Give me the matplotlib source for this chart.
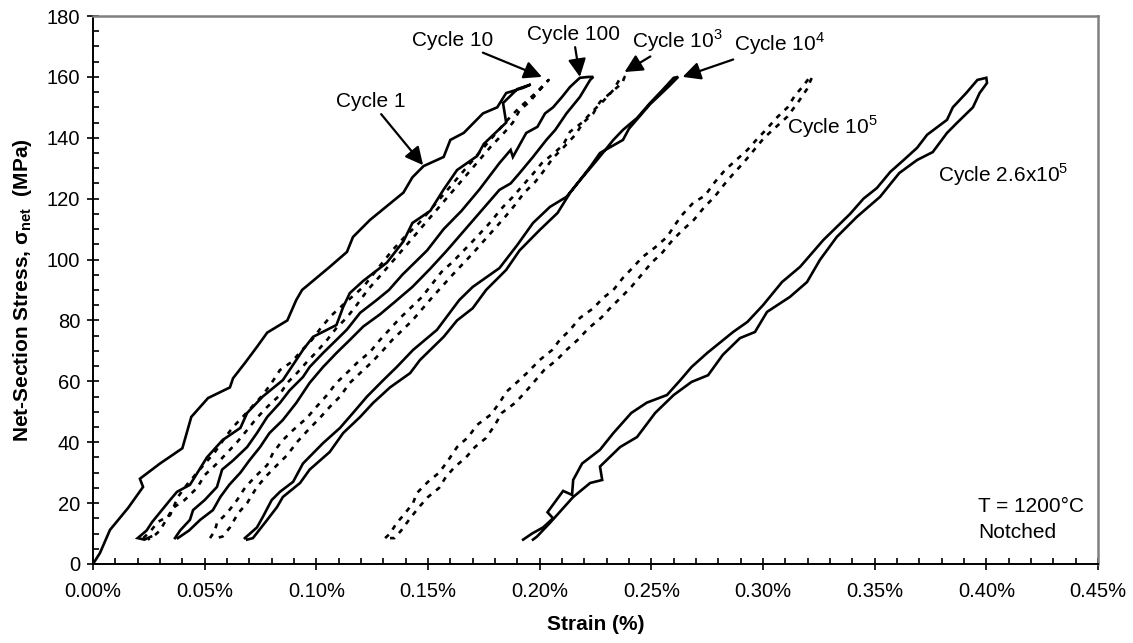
import matplotlib.pyplot as plt
from matplotlib.ticker import MultipleLocator, FuncFormatter

plt.rcParams['font.family'] = ['Liberation Sans', 'DejaVu Sans']
plt.rcParams['mathtext.fontset'] = 'custom'
plt.rcParams['mathtext.rm'] = 'Liberation Sans'
plt.rcParams['mathtext.bf'] = 'Liberation Sans:bold'

# strain (%) / net-section stress (MPa), one loop per cycle
c1_strain = [0.0, 0.0031, 0.0076, 0.0157, 0.0224, 0.021, 0.030, 0.040, 0.044, 0.0515, 0.0613, 0.0627,
             0.068, 0.0734, 0.078, 0.087, 0.091, 0.0936, 0.106, 0.1137, 0.1164, 0.124, 0.139, 0.143,
             0.148, 0.157, 0.160, 0.166, 0.1746, 0.181, 0.185, 0.1926, 0.196,
             0.190, 0.1836, 0.185, 0.175, 0.172, 0.163, 0.157, 0.151, 0.143, 0.139, 0.1316, 0.121,
             0.115, 0.112, 0.109, 0.0985, 0.094, 0.085, 0.076, 0.069, 0.066, 0.058, 0.051, 0.0434,
             0.0376, 0.0345, 0.0265, 0.024, 0.020, 0.023, 0.026]
c1_stress = [0, 3.6, 11.2, 18.4, 25.3, 28, 33, 38, 48.3, 54.5, 58, 61,
             66, 71.3, 76, 80, 86.7, 90, 97.6, 102.5, 107.4, 113, 122, 127,
             130.7, 133.7, 139.3, 141.6, 148, 150, 154.7, 156.4, 157.5,
             156, 151.4, 145, 138, 134, 129.4, 123, 116, 112, 106, 99, 93,
             89, 84.4, 78.5, 74.6, 70.3, 60.4, 55, 49.6, 44.7, 40.7, 35, 26,
             23.7, 21, 13.8, 11, 8.5, 8, 9]

c10_strain = [0.0225, 0.026, 0.029, 0.0345, 0.038, 0.042, 0.0466, 0.0546, 0.059, 0.0627, 0.067, 0.076,
              0.080, 0.0837, 0.089, 0.0936, 0.098, 0.1025, 0.107, 0.1128, 0.121, 0.127, 0.134, 0.139,
              0.146, 0.153, 0.160, 0.167, 0.174, 0.181, 0.1845, 0.191, 0.1957, 0.200, 0.204,
              0.200, 0.1957, 0.191, 0.188, 0.1845, 0.178, 0.171, 0.164, 0.157, 0.150, 0.143, 0.136,
              0.129, 0.123, 0.118, 0.1137, 0.109, 0.1048, 0.100, 0.0958, 0.0913, 0.087, 0.083, 0.078,
              0.0734, 0.069, 0.0645, 0.060, 0.0555, 0.050, 0.0466, 0.041, 0.0358, 0.030, 0.027, 0.0245]
c10_stress = [8.5, 11, 13.8, 16, 22, 26, 30, 36.8, 41.4, 45, 48.3, 55.5,
              59.5, 63.7, 66.4, 70.3, 73.6, 78, 81.8, 85.7, 91, 96.6, 103, 107,
              112, 118, 124, 130, 136, 142, 145, 150, 153, 156, 159,
              155.7, 152, 149, 145, 142, 137, 131, 125, 119, 113, 107, 101,
              95, 90, 85, 81, 77.5, 73.6, 69.6, 66.4, 62.7, 59.5, 55, 51.6,
              48, 44, 40, 36.5, 33, 29.2, 25, 21, 18.4, 11, 9, 8]

c100_strain = [0.0367, 0.039, 0.0434, 0.0448, 0.050, 0.0555, 0.0578, 0.0627, 0.069, 0.0734, 0.078,
               0.0837, 0.088, 0.094, 0.097, 0.103, 0.109, 0.1137, 0.1196, 0.127, 0.1325, 0.1385,
               0.1496, 0.157, 0.165, 0.173, 0.182, 0.187, 0.188, 0.194, 0.199, 0.2024, 0.206, 0.210,
               0.2136, 0.218, 0.222, 0.224,
               0.2226, 0.218, 0.212, 0.207, 0.203, 0.197, 0.191, 0.187, 0.182, 0.1585, 0.151, 0.143,
               0.135, 0.1285, 0.121, 0.115, 0.109, 0.103, 0.097, 0.091, 0.085, 0.079, 0.0748, 0.070,
               0.066, 0.061, 0.057, 0.0537, 0.048, 0.043, 0.040, 0.038]
c100_stress = [8.5, 11, 14.5, 17.7, 21, 25.3, 31, 34, 38.4, 43, 48.3,
               52.9, 57, 61.4, 64.7, 69.3, 73.6, 77, 82.5, 86.7, 90, 95,
               103, 110, 116, 123, 131.7, 136, 133.7, 141.6, 143.6, 148, 150, 153.4,
               156.7, 159.7, 160, 160,
               159, 153.4, 148, 142.6, 139.3, 133.7, 128.4, 125, 122.9, 103, 97, 91,
               86, 82, 78, 73.6, 69.3, 64.7, 59.5, 52.9, 47.3, 43, 38.4, 34,
               30, 26, 22, 17.7, 14.5, 11, 9.5, 8.5]

c1e3_strain = [0.0524, 0.0546, 0.0555, 0.060, 0.0645, 0.068, 0.0725, 0.078, 0.0806, 0.085, 0.0896,
               0.0958, 0.100, 0.1048, 0.109, 0.114, 0.1187, 0.124, 0.1285, 0.1375, 0.1473, 0.156,
               0.161, 0.170, 0.177, 0.1836, 0.188, 0.1926, 0.1966, 0.201, 0.2055, 0.2105, 0.2136,
               0.219, 0.2234, 0.2284, 0.233, 0.236, 0.238,
               0.237, 0.227, 0.224, 0.2194, 0.216, 0.2105, 0.206, 0.2015, 0.198, 0.193, 0.189, 0.1845,
               0.170, 0.161, 0.152, 0.143, 0.134, 0.130, 0.125, 0.1196, 0.115, 0.1106, 0.106, 0.1016,
               0.0963, 0.0913, 0.087, 0.0824, 0.078, 0.0734, 0.069, 0.065, 0.0613, 0.058, 0.055]
c1e3_stress = [8.5, 11, 13.5, 16.7, 21, 25, 28.6, 32.5, 36.5, 40.7, 44,
               48, 51.6, 55.5, 59.5, 63, 66.4, 69.6, 73.6, 80.8, 87.7, 95.9,
               99.2, 106, 111.5, 117.3, 120.6, 124.5, 127.8, 131.7, 134.4, 137.6, 142,
               145, 148.5, 152, 155.7, 159.5, 160,
               158, 151.8, 148, 144.9, 141, 136.7, 133.4, 128.8, 125.5, 121.9, 118, 114,
               102, 95, 87.7, 80, 73.6, 70.3, 66.4, 62.7, 59.5, 55, 51.6, 48,
               44, 40, 35.8, 32.5, 29.2, 25.3, 20, 16.7, 12, 9, 8.5]

c1e4_strain = [0.068, 0.0734, 0.076, 0.080, 0.0837, 0.0896, 0.094, 0.103, 0.1106, 0.1164, 0.1227,
               0.130, 0.136, 0.1433, 0.154, 0.164, 0.170, 0.182, 0.190, 0.197, 0.2046, 0.212, 0.218,
               0.2257, 0.233, 0.2373, 0.2436, 0.2494, 0.255, 0.260, 0.262,
               0.258, 0.2494, 0.240, 0.2373, 0.227, 0.2226, 0.2136, 0.208, 0.200, 0.191, 0.185, 0.176,
               0.170, 0.163, 0.157, 0.1464, 0.142, 0.133, 0.1254, 0.1196, 0.112, 0.106, 0.097, 0.0927,
               0.085, 0.0824, 0.078, 0.0716, 0.069]
c1e4_stress = [8.5, 12, 15.4, 21, 23.7, 27, 33, 39.7, 44.7, 49.6, 55,
               60.4, 64.7, 70.3, 76.9, 86.7, 91, 97.2, 104.8, 112, 117.3, 120.6, 126,
               132.7, 139.3, 142.6, 146.5, 151.4, 155.7, 159.7, 160,
               157, 151, 143, 139.3, 135, 130.4, 121.9, 115.3, 109.7, 103, 96.6, 90,
               84, 80, 74.6, 67, 62.7, 58, 52.9, 48.3, 43, 36.8, 31, 26.6,
               22, 18.7, 14.5, 8.5, 8]

c1e5_strain = [0.1308, 0.133, 0.136, 0.139, 0.1433, 0.145, 0.150, 0.155, 0.159, 0.163, 0.168, 0.172,
               0.178, 0.182, 0.185, 0.190, 0.1947, 0.200, 0.2056, 0.209, 0.2136, 0.218, 0.224, 0.2284,
               0.233, 0.2373, 0.242, 0.246, 0.2517, 0.257, 0.2606, 0.2637, 0.2687, 0.274, 0.2785,
               0.283, 0.288, 0.293, 0.297, 0.3018, 0.306, 0.311, 0.3144, 0.318, 0.321, 0.322,
               0.3197, 0.316, 0.311, 0.305, 0.3005, 0.296, 0.2915, 0.287, 0.283, 0.2783, 0.2738,
               0.269, 0.264, 0.2595, 0.2546, 0.250, 0.2456, 0.241, 0.2366, 0.232, 0.2277, 0.222,
               0.217, 0.212, 0.2076, 0.202, 0.1977, 0.193, 0.189, 0.183, 0.180, 0.176, 0.171, 0.167,
               0.162, 0.158, 0.155, 0.150, 0.146, 0.142, 0.138, 0.135, 0.133]
c1e5_stress = [8.5, 10, 13.5, 16, 20, 23.3, 27, 30, 34, 38.4, 41.7, 45.7,
               49, 52.9, 56.5, 59.8, 63, 67, 70.3, 73.6, 76.9, 80.8, 84, 87.4,
               90, 94, 97.6, 100.8, 104, 107.4, 111.4, 114.6, 118.6, 121, 125.5,
               129.4, 132.7, 136, 139.3, 143, 146.5, 150, 154, 157, 160, 160,
               156, 152, 147, 143, 140, 136, 132, 128.4, 125, 120.6, 117.3,
               113, 109.7, 106.4, 102, 98.9, 95, 91, 87.7, 84.4, 81, 77.5,
               73.6, 70.3, 67, 63.7, 60, 56, 52.9, 49.6, 45.7, 41.4, 38.4, 35,
               31.9, 28.6, 25, 22, 18.7, 15, 11, 8.5, 8.5]

c26e5_strain = [0.1926, 0.1966, 0.2015, 0.206, 0.2035, 0.2105, 0.2145, 0.215, 0.219, 0.227, 0.233,
                0.241, 0.248, 0.257, 0.263, 0.268, 0.275, 0.2866, 0.293, 0.300, 0.3085, 0.3166, 0.327,
                0.339, 0.345, 0.351, 0.357, 0.363, 0.369, 0.3735, 0.3824, 0.385, 0.391, 0.396, 0.400,
                0.4003, 0.397, 0.394, 0.387, 0.3824, 0.376, 0.369, 0.361, 0.3524, 0.342, 0.333, 0.3255,
                0.3197, 0.312, 0.3018, 0.2964, 0.2897, 0.282, 0.2754, 0.268, 0.260, 0.2517, 0.2436,
                0.236, 0.227, 0.228, 0.2226, 0.215, 0.2046, 0.1988, 0.197]
c26e5_stress = [8, 10, 12, 15, 17, 24, 22.7, 27.6, 33, 37.5, 43,
                49.6, 53, 55.5, 60.4, 64.7, 69.3, 76.2, 79.5, 85, 92.6, 97.6, 106.4,
                115, 120, 123.5, 128.8, 132.7, 136.7, 141, 145.9, 150, 154.7, 159, 159.7,
                158, 154.7, 150, 145, 141.6, 135.3, 132.7, 128.4, 120.6, 114, 107.4, 99.9,
                92.6, 87.7, 82.8, 76.2, 74.2, 68.7, 62, 59.8, 55.5, 49.6, 41.7,
                38.4, 32, 27.6, 26.6, 22, 13.5, 9, 8]

solid = (c1_strain, c1_stress), (c100_strain, c100_stress), (c1e4_strain, c1e4_stress), (c26e5_strain, c26e5_stress)
dashed = (c10_strain, c10_stress), (c1e3_strain, c1e3_stress), (c1e5_strain, c1e5_stress)

fig = plt.figure(figsize=(11.33, 6.43), dpi=100)
ax = fig.add_axes([0.0821, 0.1229, 0.887, 0.8522])

for x, y in solid:
    ax.plot(x, y, color='black', lw=1.9, solid_joinstyle='miter')
for x, y in dashed:
    ax.plot(x, y, color='black', lw=1.9, linestyle=(0, (1.9, 2.4)))

arrow = dict(arrowstyle='-|>', color='black', lw=1.6, mutation_scale=27, shrinkA=0, shrinkB=0)
fs = 15
ax.annotate('Cycle 1', xy=(0.1478, 131), xytext=(0.1245, 151.8), ha='center', va='center',
            fontsize=fs, arrowprops=arrow)
ax.annotate('Cycle 10', xy=(0.201, 160), xytext=(0.1612, 172), ha='center', va='center',
            fontsize=fs, arrowprops=arrow)
ax.annotate('Cycle 100', xy=(0.218, 160), xytext=(0.215, 173.8), ha='center', va='center',
            fontsize=fs, arrowprops=arrow)
ax.annotate('Cycle 10$^3$', xy=(0.238, 161.6), xytext=(0.2615, 172), ha='center', va='center',
            fontsize=fs, arrowprops=arrow)
ax.annotate('Cycle 10$^4$', xy=(0.264, 160), xytext=(0.3076, 171), ha='center', va='center',
            fontsize=fs, arrowprops=arrow)
ax.text(0.331, 143.6, 'Cycle 10$^5$', ha='center', va='center', fontsize=fs)
ax.text(0.4075, 127.8, 'Cycle 2.6x10$^5$', ha='center', va='center', fontsize=fs)
ax.text(0.3963, 19, 'T = 1200°C', ha='left', va='center', fontsize=fs)
ax.text(0.3963, 10.2, 'Notched', ha='left', va='center', fontsize=fs)

ax.set_xlim(0, 0.45)
ax.set_ylim(0, 180)
ax.xaxis.set_major_locator(MultipleLocator(0.05))
ax.xaxis.set_minor_locator(MultipleLocator(0.01))
ax.yaxis.set_major_locator(MultipleLocator(20))
ax.yaxis.set_minor_locator(MultipleLocator(5))
ax.xaxis.set_major_formatter(FuncFormatter(lambda v, p: f'{v:.2f}%'))
ax.tick_params(which='major', direction='inout', length=8.6, width=1.2, labelsize=14.5, color='black')
ax.tick_params(which='minor', direction='in', length=4.3, width=1.2, color='black')
ax.tick_params(axis='x', which='major', pad=9)
ax.tick_params(axis='y', which='major', pad=5)

for s in ('left', 'bottom'):
    ax.spines[s].set_color('black')
    ax.spines[s].set_linewidth(1.4)
for s in ('top', 'right'):
    ax.spines[s].set_color('#808080')
    ax.spines[s].set_linewidth(1.8)

ax.set_xlabel('Strain (%)', fontsize=15, fontweight='bold', va='center')
ax.xaxis.set_label_coords(0.5, -0.111)
ax.set_ylabel('Net-Section Stress, σ$_{\\mathbf{net}}$  (MPa)', fontsize=15, fontweight='bold', va='center')
ax.yaxis.set_label_coords(-0.0706, 0.5)

fig.savefig('out.png', dpi=100)
